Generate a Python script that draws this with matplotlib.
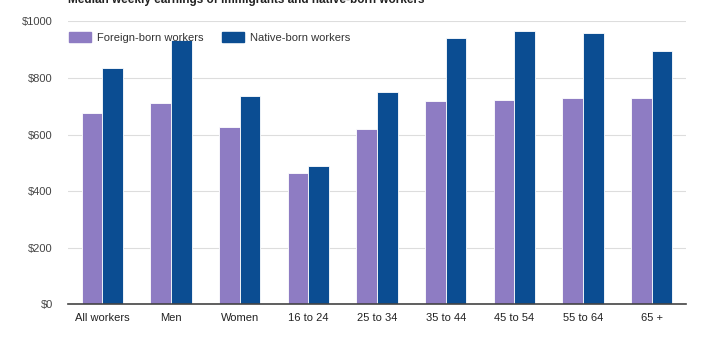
import matplotlib
matplotlib.use('Agg')
import matplotlib.pyplot as plt
import matplotlib.patches as mpatches
import numpy as np

plt.rcParams['font.family'] = ['Liberation Sans', 'DejaVu Sans']

categories = ['All workers', 'Men', 'Women', '16 to 24', '25 to 34',
              '35 to 44', '45 to 54', '55 to 64', '65 +']
foreign_born = [678, 711, 625, 463, 620, 719, 723, 730, 730]
native_born = [835, 933, 738, 489, 750, 940, 965, 959, 895]
yticks = [0, 200, 400, 600, 800, 1000]
ytick_labels = ['$0', '$200', '$400', '$600', '$800', '$1000']

purple = '#8e7cc3'
blue = '#0b4d92'

fig = plt.figure(figsize=(7.08, 3.54), dpi=100)
ax = fig.add_axes([0.096, 0.1404, 0.873, 0.7991])

x = np.arange(len(categories))
bar_width = 0.3
ax.bar(x - bar_width / 2, foreign_born, width=bar_width, color=purple,
       edgecolor='white', linewidth=0.6, zorder=3)
ax.bar(x + bar_width / 2, native_born, width=bar_width, color=blue,
       edgecolor='white', linewidth=0.6, zorder=3)

ax.set_xlim(-0.5, len(categories) - 0.5)
ax.set_ylim(0, 1000)
ax.set_yticks(yticks)
ax.set_yticklabels(ytick_labels)
ax.set_xticks(x)
ax.set_xticklabels(categories)
ax.tick_params(axis='both', length=0, labelsize=8, colors='#444444')
ax.tick_params(axis='y', pad=11)
ax.tick_params(axis='x', pad=6)
for lbl in ax.get_xticklabels():
    lbl.set_color('#222222')

ax.grid(axis='y', color='#dddddd', linewidth=0.8, zorder=0)
for side in ['top', 'right', 'left']:
    ax.spines[side].set_visible(False)
ax.spines['bottom'].set_color('#444444')
ax.spines['bottom'].set_linewidth(1.2)
ax.spines['bottom'].set_zorder(4)

# legend across the top, inside the plot
ax.legend(handles=[
    mpatches.Patch(color=purple, label='Foreign-born workers'),
    mpatches.Patch(color=blue, label='Native-born workers'),
], loc='upper left', ncol=2, frameon=False, fontsize=8,
    bbox_to_anchor=(-0.009, 0.985), handlelength=2.0, handleheight=0.9,
    handletextpad=0.5, columnspacing=1.7, borderaxespad=0.2,
    labelcolor='#333333')

# title cut off at the top of the image, as in the source
fig.text(0.096, 1.0, 'Median weekly earnings of immigrants and native-born workers',
         fontsize=8.5, fontweight='bold', color='#222222', va='center', ha='left')

fig.savefig('out.png', dpi=100)
